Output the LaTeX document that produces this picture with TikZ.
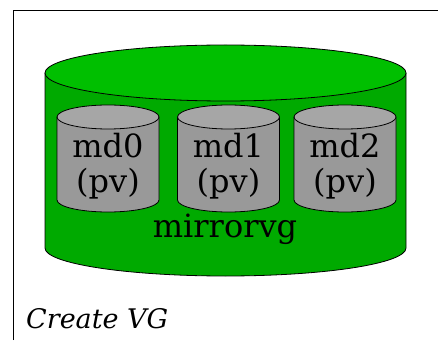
\documentclass[tikz,border=0pt]{standalone}
\usepackage{fontspec}
\setmainfont{DejaVu Serif}
\usepackage{tikz}
\definecolor{vgGreen}{HTML}{00BF00}
\definecolor{vgGreenDark}{HTML}{00AA00}
\definecolor{pvGray}{HTML}{999999}
\definecolor{pvGrayLight}{HTML}{A6A6A6}

\begin{document}
\begin{tikzpicture}[
  x=1pt, y=1pt,
  frame/.style={draw, line width=0.9pt},
  vgbody/.style={fill=vgGreenDark, draw=black, line width=0.8pt},
  vgtop/.style={fill=vgGreen, draw=black, line width=0.8pt},
  pvbody/.style={fill=pvGray, draw=black, line width=0.8pt},
  pvtop/.style={fill=pvGrayLight, draw=black, line width=0.8pt},
  lbl/.style={font=\fontsize{32}{35}\selectfont, align=center, inner sep=0pt},
  caption/.style={font=\itshape\fontsize{27}{30}\selectfont, inner sep=0pt}
]
  \useasboundingbox (0,0) rectangle (438,340);
  \draw[frame] (13,0) -- (13,330) -- (438,330);

  % volume group can
  \filldraw[vgbody] (45,267) -- (45,92)
    arc[start angle=180, end angle=360, x radius=180.5, y radius=28] -- (406,267);
  \filldraw[vgtop] (225.5,267) ellipse[x radius=180.5, y radius=28];

  % physical volumes
  \foreach \n/\cx in {md0/108, md1/228.5, md2/345} {
    \filldraw[pvbody] (\cx-51,223) -- (\cx-51,140)
      arc[start angle=180, end angle=360, x radius=51, y radius=12] -- (\cx+51,223);
    \filldraw[pvtop] (\cx,223) ellipse[x radius=51, y radius=12];
    \node[lbl] (\n) at (\cx,174) {\n\\(pv)};
  }

  \node[lbl, anchor=base] (vg) at (225,102.5) {mirrorvg};
  \node[caption, anchor=base west] (cap) at (26,12) {Create VG};
\end{tikzpicture}
\end{document}
